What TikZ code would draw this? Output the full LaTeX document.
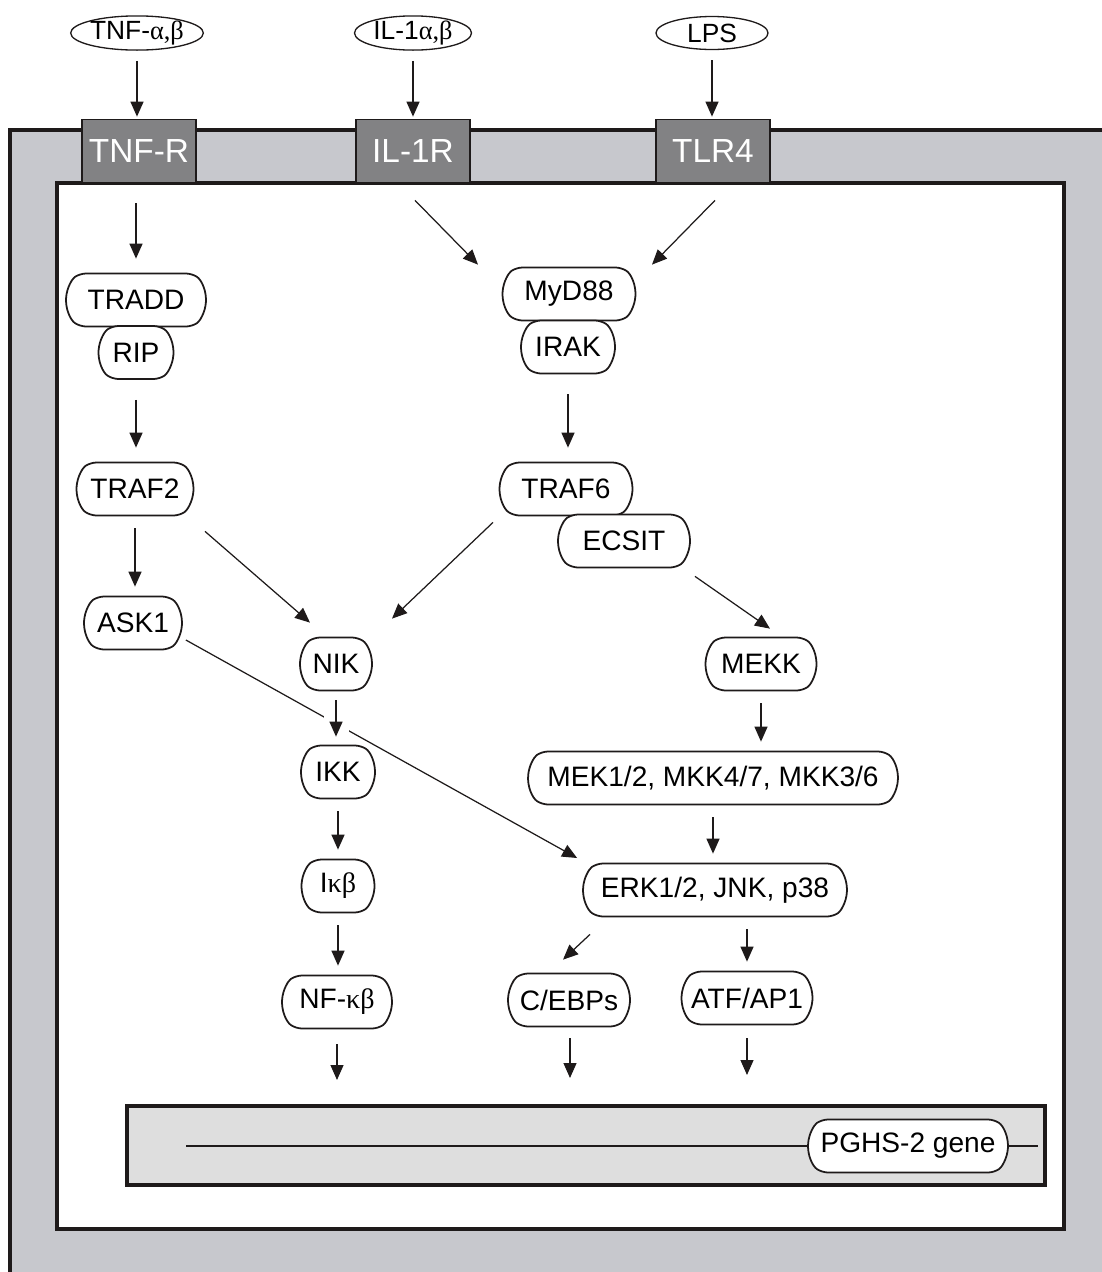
\documentclass[tikz,border=0pt]{standalone}
\usepackage{fontspec}
\setmainfont{Liberation Sans}
\newfontfamily\greekfont{Liberation Serif}
\usetikzlibrary{arrows.meta,shapes.geometric,shapes.misc}
\definecolor{cellgray}{RGB}{199,200,205}
\definecolor{recgray}{RGB}{130,130,132}
\definecolor{nucgray}{RGB}{222,222,222}
\definecolor{linedark}{RGB}{30,26,26}
\newcommand{\gk}[1]{{\greekfont #1}}
\tikzset{
  prot/.style={rounded rectangle, rounded rectangle arc length=110, rounded corners=0.12cm,
    draw=linedark, line width=1pt, fill=white, minimum height=1.06cm, inner sep=0pt,
    font=\fontsize{16}{18}\selectfont},
  lig/.style={ellipse, draw=linedark, line width=0.75pt, fill=white, minimum width=2.34cm,
    minimum height=0.66cm, inner sep=0pt, font=\fontsize{15}{17}\selectfont},
  recep/.style={rectangle, draw=linedark, line width=1pt, fill=recgray, text=white,
    minimum width=2.28cm, minimum height=1.26cm, inner sep=0pt, font=\fontsize{19}{21}\selectfont},
  tip/.style={-{Triangle[length=0.3cm,width=0.26cm]}, line width=0.7pt, draw=linedark},
  arr/.style={tip, shorten <=0.24cm, shorten >=0.18cm},
  longarr/.style={tip, shorten <=0.4cm, shorten >=0.28cm},
  wall/.style={line width=2.2pt, draw=linedark},
}
\begin{document}
\begin{tikzpicture}[x=0.02cm, y=-0.02cm]
    \useasboundingbox (0,0) rectangle (1102,1272);

    % 細胞膜と細胞質
    \fill[cellgray] (10,130) rectangle (1102,1272);
    \draw[wall] (1102,130) -- (10,130) -- (10,1272);
    \draw[wall, fill=white] (57,183) rectangle (1064,1229);

    % 核 (遺伝子)
    \draw[wall, line width=1.8pt, fill=nucgray] (127,1106) rectangle (1045,1185);
    \coordinate (geneL) at (186,1146);
    \coordinate (geneR) at (1038,1146);
    \node[prot, minimum width=4.0cm] (PGHS) at (908,1146) {PGHS-2 gene};
    \draw[line width=1.1pt, draw=linedark] (geneL) -- (PGHS.west);
    \draw[line width=1.1pt, draw=linedark] (PGHS.east) -- (geneR);

    % リガンド
    \node[lig] (TNFa) at (137,33) {TNF-\gk{α,β}};
    \node[lig] (IL1a) at (413,33) {IL-1\gk{α,β}};
    \node[lig, minimum width=2.24cm] (LPS) at (712,33) {LPS};

    % 受容体
    \node[recep] (TNFR) at (139,151) {\raisebox{-0.1cm}{TNF-R}};
    \node[recep] (IL1R) at (413,151) {\raisebox{-0.1cm}{IL-1R}};
    \node[recep] (TLR4) at (713,151) {\raisebox{-0.1cm}{TLR4}};

    % TNF 経路
    \node[prot, minimum width=2.8cm] (TRADD) at (136,300) {TRADD};
    \node[prot, minimum width=1.5cm] (RIP) at (136,352.5) {RIP};
    \node[prot, minimum width=2.34cm] (TRAF2) at (135,489) {TRAF2};
    \node[prot, minimum width=1.96cm] (ASK1) at (133,623) {ASK1};

    % IL-1 / LPS 経路
    \node[prot, minimum width=2.66cm] (MyD88) at (569,294) {MyD88};
    \node[prot, minimum width=1.88cm] (IRAK) at (568,347) {IRAK};
    \node[prot, minimum width=2.66cm] (TRAF6) at (566,489) {TRAF6};
    \node[prot, minimum width=2.64cm] (ECSIT) at (624,541) {ECSIT};

    % NF-kB 経路
    \node[prot, minimum width=1.44cm] (NIK) at (336,664) {NIK};
    \node[prot, minimum width=1.48cm] (IKK) at (338,772) {IKK};
    \node[prot, minimum width=1.46cm] (Ikb) at (338,886) {I\gk{κβ}};
    \node[prot, minimum width=2.2cm] (NFkb) at (337,1002) {NF-\gk{κβ}};

    % MAPK 経路
    \node[prot, minimum width=2.22cm] (MEKK) at (761,664) {MEKK};
    \node[prot, minimum width=7.4cm] (MEK) at (713,778) {MEK1/2, MKK4/7, MKK3/6};
    \node[prot, minimum width=5.28cm] (ERK) at (715,890) {ERK1/2, JNK, p38};
    \node[prot, minimum width=2.44cm] (CEBP) at (569,1000) {C/EBPs};
    \node[prot, minimum width=2.62cm] (ATF) at (747,998) {ATF/AP1};

    % 矢印の終点
    \coordinate (nfOut) at (337,1080);
    \coordinate (ceOut) at (570,1078);
    \coordinate (atOut) at (747,1075);

    % リガンド -> 受容体
    \foreach \a/\b in {TNFa/TNFR, IL1a/IL1R, LPS/TLR4} {
      \draw[tip, shorten <=0.2cm, shorten >=0.04cm] (\a.south) -- (\a.south |- \b.north);
    }

    % 縦の矢印
    \draw[longarr] (TNFR.south -| TRADD.north) -- (TRADD.north);
    \draw[longarr] (RIP.south) -- (RIP.south |- TRAF2.north);
    \draw[longarr] (IRAK.south) -- (IRAK.south |- TRAF6.north);
    \foreach \a/\b in {TRAF2/ASK1, IKK/Ikb, Ikb/NFkb, MEKK/MEK, MEK/ERK} {
      \draw[arr] (\a.south) -- (\a.south |- \b.north);
    }
    \draw[arr] (ERK.south -| ATF.north) -- (ATF.north);

    % 斜めの矢印
    \draw[tip] ([xshift=0.04cm, yshift=-0.34cm]IL1R.south) -- ([xshift=-1.82cm, yshift=0.04cm]MyD88.north);
    \draw[tip] ([xshift=0.04cm, yshift=-0.34cm]TLR4.south) -- ([xshift=1.66cm, yshift=0.04cm]MyD88.north);
    \draw[tip] ([xshift=1.4cm, yshift=-0.3cm]TRAF2.south) -- ([xshift=-0.52cm, yshift=0.28cm]NIK.north);
    \draw[tip] ([xshift=-1.46cm, yshift=-0.12cm]TRAF6.south) -- ([xshift=1.12cm, yshift=0.36cm]NIK.north);
    \draw[tip] ([xshift=1.42cm, yshift=-0.16cm]ECSIT.south) -- ([xshift=0.18cm, yshift=0.16cm]MEKK.north);
    \draw[tip] ([xshift=-2.5cm, yshift=-0.34cm]ERK.south) -- ([xshift=-0.12cm, yshift=0.26cm]CEBP.north);
    \draw[tip] ([xshift=0.06cm, yshift=-0.34cm]ASK1.east) -- ([xshift=-0.1cm, yshift=0.64cm]ERK.west);

    % 交差部の切れ目
    \draw[white, line width=0.5cm, shorten <=0.46cm, shorten >=0.24cm] (NIK.south) -- (NIK.south |- IKK.north);
    \draw[arr, shorten <=0.18cm, shorten >=0.16cm] (NIK.south) -- (NIK.south |- IKK.north);

    % 核への矢印
    \draw[tip, shorten <=0.3cm] (NFkb.south) -- (nfOut);
    \draw[tip, shorten <=0.22cm] (CEBP.south -| ceOut) -- (ceOut);
    \draw[tip, shorten <=0.26cm] (ATF.south) -- (atOut);
  \end{tikzpicture}
\end{document}
